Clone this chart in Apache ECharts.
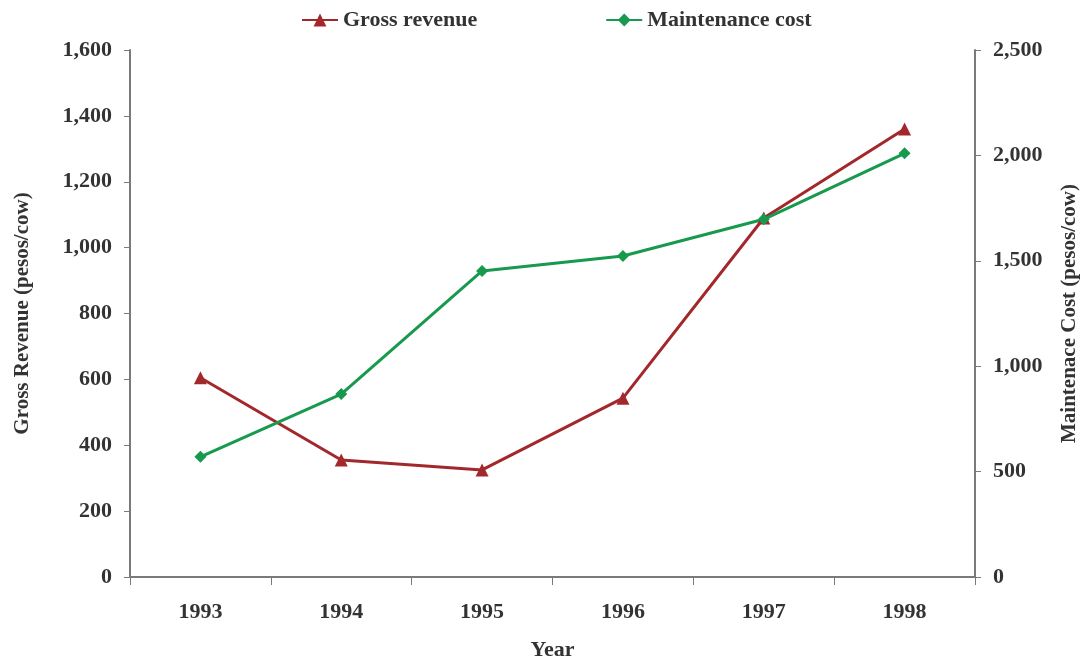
<!DOCTYPE html>
<html>
<head>
<meta charset="utf-8">
<script src="https://cdn.jsdelivr.net/npm/echarts@6/dist/echarts.min.js"></script>
<style>
  html, body { margin: 0; padding: 0; background: #fff; }
  #chart { width: 1080px; height: 661px; }
</style>
</head>
<body>
<div id="chart"></div>
<script>
const years = ['1993', '1994', '1995', '1996', '1997', '1998']
const grossRevenue = [605, 355, 325, 543, 1090, 1360]
const maintenanceCost = [570, 868, 1452, 1523, 1697, 2010]

const chart = echarts.init(document.getElementById('chart'))

const font = '"Liberation Serif", "DejaVu Serif", serif'
const axisColor = '#7a7a7a'
const labelColor = '#333'
const red = '#A3282C'
const green = '#17994E'

const fmt = v => v.toLocaleString('en-US')

const option = {
  animation: false,
  textStyle: { fontFamily: font },
  legend: {
    top: 4,
    left: 296,
    itemGap: 128,
    itemWidth: 36,
    itemHeight: 16,
    textStyle: { fontFamily: font, fontWeight: 'bold', fontSize: 22, color: labelColor },
    data: ['Gross revenue', 'Maintenance cost']
  },
  grid: {
    left: 130, right: 105, top: 50, bottom: 84,
    containLabel: false,
    outerBoundsMode: 'none'
  },
  xAxis: {
    type: 'category',
    data: years,
    boundaryGap: true,
    name: 'Year',
    nameLocation: 'middle',
    nameGap: 62,
    nameTextStyle: { fontFamily: font, fontWeight: 'bold', fontSize: 22, color: labelColor },
    axisLine: { lineStyle: { color: axisColor, width: 2 } },
    axisTick: { show: true, length: 8, lineStyle: { color: axisColor, width: 1 } },
    axisLabel: { fontFamily: font, fontWeight: 'bold', fontSize: 22, color: labelColor, margin: 24 }
  },
  yAxis: [
    {
      type: 'value',
      min: 0,
      max: 1600,
      interval: 200,
      name: 'Gross Revenue (pesos/cow)',
      nameLocation: 'middle',
      nameGap: 97,
      nameTextStyle: { fontFamily: font, fontWeight: 'bold', fontSize: 21, color: labelColor },
      axisLine: { show: true, lineStyle: { color: axisColor, width: 2 } },
      axisTick: { show: true, length: 6, lineStyle: { color: axisColor } },
      splitLine: { show: false },
      axisLabel: { fontFamily: font, fontWeight: 'bold', fontSize: 22, color: labelColor, margin: 18, formatter: fmt }
    },
    {
      type: 'value',
      min: 0,
      max: 2500,
      interval: 500,
      position: 'right',
      name: 'Maintenace Cost (pesos/cow)',
      nameLocation: 'middle',
      nameGap: 84,
      nameRotate: 90,
      nameTextStyle: { fontFamily: font, fontWeight: 'bold', fontSize: 21, color: labelColor },
      axisLine: { show: true, lineStyle: { color: axisColor, width: 2 } },
      axisTick: { show: true, length: 6, lineStyle: { color: axisColor } },
      splitLine: { show: false },
      axisLabel: { fontFamily: font, fontWeight: 'bold', fontSize: 22, color: labelColor, margin: 18, formatter: fmt }
    }
  ],
  series: [
    {
      name: 'Gross revenue',
      type: 'line',
      yAxisIndex: 0,
      data: grossRevenue,
      symbol: 'triangle',
      symbolSize: 13,
      lineStyle: { color: red, width: 3 },
      itemStyle: { color: red }
    },
    {
      name: 'Maintenance cost',
      type: 'line',
      yAxisIndex: 1,
      data: maintenanceCost,
      symbol: 'diamond',
      symbolSize: 12,
      lineStyle: { color: green, width: 3 },
      itemStyle: { color: green }
    }
  ]
}

chart.setOption(option)
</script>
</body>
</html>
